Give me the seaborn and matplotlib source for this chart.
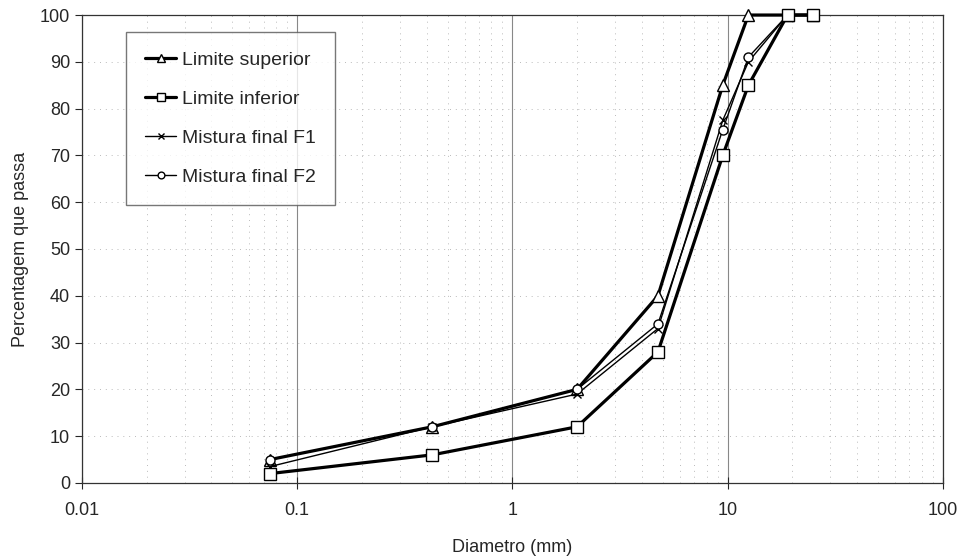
import matplotlib
matplotlib.use('Agg')
import matplotlib.pyplot as plt
import matplotlib.ticker as mticker
import numpy as np
import pandas as pd
import seaborn as sns

# sieve sizes (mm) and percent passing
diametro = [0.075, 0.425, 2.0, 4.75, 9.5, 12.5, 19.0, 25.0]
limite_superior = [5, 12, 20, 40, 85, 100, 100, 100]
limite_inferior = [2, 6, 12, 28, 70, 85, 100, 100]
mistura_f1 = [3.5, 12, 19, 33, 77.5, 90, 100, 100]
mistura_f2 = [5, 12, 20, 34, 75.5, 91, 100, 100]

series_names = ['Limite superior', 'Limite inferior', 'Mistura final F1', 'Mistura final F2']
x_ticks = [0.01, 0.1, 1, 10, 100]
x_ticklabels = ['0.01', '0.1', '1', '10', '100']
y_ticks = list(range(0, 101, 10))

df = pd.DataFrame({
    'Diametro': diametro * 4,
    'Passa': limite_superior + limite_inferior + mistura_f1 + mistura_f2,
    'Serie': [s for s in series_names for _ in diametro],
})

sns.set_style('white')
plt.rcParams['font.family'] = ['Liberation Sans', 'DejaVu Sans']

fig = plt.figure(figsize=(9.63, 5.57), dpi=100)
ax = fig.add_axes([0.085, 0.133, 0.894, 0.840])
ax.set_xscale('log')

# lower limit squares sit on top of everything at the 100% end
styles = {
    'Limite superior': dict(marker='^', lw=2.3, ms=8, z=3),
    'Limite inferior': dict(marker='s', lw=2.3, ms=8.5, z=6),
    'Mistura final F1': dict(marker='x', lw=1.0, ms=6, z=4),
    'Mistura final F2': dict(marker='o', lw=1.0, ms=6.5, z=5),
}
for name in series_names:
    st = styles[name]
    sub = df[df['Serie'] == name]
    sns.lineplot(data=sub, x='Diametro', y='Passa', ax=ax, color='black',
                 linewidth=st['lw'], marker=st['marker'], markersize=st['ms'],
                 markerfacecolor='white', markeredgecolor='black',
                 markeredgewidth=1.0, label=name, estimator=None, sort=False,
                 clip_on=False, zorder=st['z'])

ax.set_xlim(0.01, 100)
ax.set_ylim(0, 100)
ax.set_xticks(x_ticks)
ax.set_xticklabels(x_ticklabels)
ax.xaxis.set_minor_locator(mticker.LogLocator(base=10, subs=np.arange(2, 10)))
ax.xaxis.set_minor_formatter(mticker.NullFormatter())
ax.set_yticks(y_ticks)

ax.grid(which='major', axis='x', color='#888888', linewidth=0.8, linestyle='-')
ax.grid(which='minor', axis='x', color='#bbbbbb', linewidth=0.7, linestyle=(0, (1, 5)))
ax.grid(which='major', axis='y', color='#bbbbbb', linewidth=0.7, linestyle=(0, (1, 5)))
ax.set_axisbelow(True)

ax.tick_params(axis='x', which='major', direction='inout', length=8, width=0.8,
               labelsize=13, pad=10, bottom=True)
ax.tick_params(axis='x', which='minor', length=0)
ax.tick_params(axis='y', direction='out', length=5, width=0.8, labelsize=13, left=True)

for sp in ax.spines.values():
    sp.set_color('#333333')
    sp.set_linewidth(0.9)

ax.set_xlabel('Diametro (mm)', fontsize=13, labelpad=14)
ax.set_ylabel('Percentagem que passa', fontsize=13, labelpad=8)

leg = ax.legend(loc='upper left', bbox_to_anchor=(0.051, 0.964), borderaxespad=0,
                frameon=True, fancybox=False, fontsize=14, handlelength=1.6,
                labelspacing=1.1, borderpad=1.0, handletextpad=0.3, markerscale=0.75)
leg.get_frame().set_edgecolor('#555555')
leg.get_frame().set_linewidth(1.0)
leg.set_zorder(10)

fig.savefig('out.png', dpi=100)
